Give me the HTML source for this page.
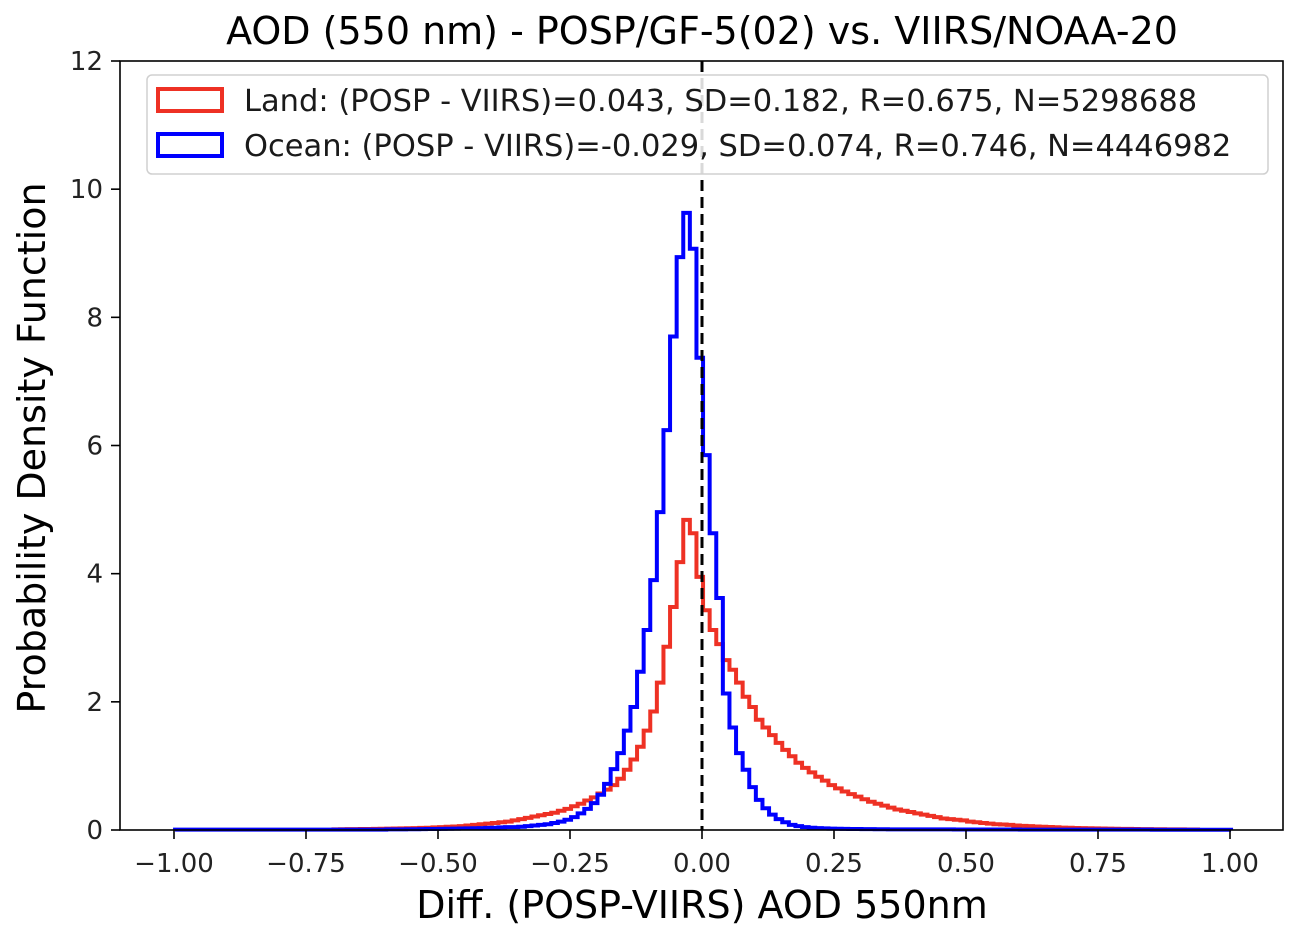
<!DOCTYPE html>
<html><head><meta charset="utf-8"><style>
html,body{margin:0;padding:0;background:#fff;}
svg{display:block;font-family:"DejaVu Sans","Liberation Sans",sans-serif;}
</style></head><body>
<svg id="chart" width="1300" height="940" viewBox="0 0 1300 940">
<text x="702" y="44" font-size="38" text-anchor="middle" fill="#000">AOD (550 nm) - POSP/GF-5(02) vs. VIIRS/NOAA-20</text>
<g id="plot"></g>
<text x="702" y="918" font-size="38" text-anchor="middle" fill="#000">Diff. (POSP-VIIRS) AOD 550nm</text>
<text transform="translate(45,448) rotate(-90)" font-size="38" text-anchor="middle" fill="#000">Probability Density Function</text>
</svg>
<script>
const xTicks = [-1.0, -0.75, -0.5, -0.25, 0.0, 0.25, 0.5, 0.75, 1.0];
const xTickLabels = ["\u22121.00","\u22120.75","\u22120.50","\u22120.25","0.00","0.25","0.50","0.75","1.00"];
const yTicks = [0, 2, 4, 6, 8, 10, 12];
const binWidth = 0.0125;
const binOrigin = 0.002;
const landStartBin = -56;
const landValues = [0.01,0.012,0.013,0.014,0.015,0.016,0.018,0.02,0.022,0.024,0.026,0.028,0.03,0.033,0.036,0.04,0.045,0.05,0.055,0.06,0.07,0.08,0.09,0.1,0.11,0.12,0.13,0.15,0.17,0.19,0.21,0.23,0.25,0.27,
0.3,0.33,0.37,0.41,0.46,0.51,0.57,0.63,0.7,0.8,0.94,1.1,1.3,1.55,1.85,2.3,2.86,
3.48,4.18,4.84,4.63,3.95,
3.43,3.12,2.9,2.65,2.5,2.3,2.08,1.92,1.72,1.6,1.48,1.36,1.25,1.15,1.05,0.97,0.9,0.83,0.77,0.7,0.65,0.6,0.56,0.52,0.48,0.44,0.41,0.38,0.35,0.32,0.3,0.28,0.26,0.24,0.22,0.2,0.18,0.17,0.16,0.15,0.13,0.12,0.11,0.1,0.09,0.085,0.08,0.07,0.065,0.06,0.055,
0.05,0.046,0.042,0.038,0.035,0.032,0.03,0.027,0.025,0.023,0.021,0.02,0.018,0.017,0.015,0.014,0.013,0.012,0.011,0.01,0.01,0.009,0.008,0.008];
const oceanStartBin = -80;
const oceanValues = [0.005,0.005,0.005,0.005,0.005,0.005,0.005,0.005,0.005,0.005,0.005,0.005,0.005,0.005,0.005,0.005,0.005,0.005,0.005,0.005,0.005,0.005,0.005,0.005,0.005,0.005,0.005,0.005,0.005,0.005,0.005,0.005,
0.01,0.01,0.01,0.012,0.012,0.014,0.015,0.016,0.018,0.02,0.022,0.024,0.026,0.028,0.03,0.033,0.036,0.04,0.045,0.045,
0.05,0.06,0.07,0.08,0.09,0.11,0.13,0.16,0.2,0.26,0.33,0.42,0.55,0.72,0.95,1.2,1.55,1.92,2.47,3.12,3.9,4.96,6.24,7.7,8.94,9.63,
9.07,7.37,5.85,4.63,3.62,2.13,1.6,1.2,0.94,0.67,0.47,0.34,0.24,0.17,0.12,0.08,0.06,0.045,0.035,0.03,
0.025,0.022,0.02,0.018,0.016,0.015,0.014,0.013,0.012,0.011,0.01,0.01,0.01,0.01,0.01,0.01,0.01,0.01,0.01,0.01,0.008,0.008,0.008,0.008,0.008,0.008,0.008,0.008,0.008,0.008,0.006,0.006,0.006,0.006,0.006,0.006,0.006,0.006,0.006,0.006,0.005,0.005,0.005,0.005,0.005,0.005,0.005,0.005,0.005,0.005,0.004,0.004,0.004,0.004,0.004,0.004,0.004,0.004,0.004,0.004,0.004,0.004];
const legendLabels = ["Land: (POSP - VIIRS)=0.043, SD=0.182, R=0.675, N=5298688","Ocean: (POSP - VIIRS)=-0.029, SD=0.074, R=0.746, N=4446982"];

const L=120,R=1283,T=61,B=830;
const xs = v => 702 + v*528;
const ys = v => B - v*(B-T)/12;
const NS="http://www.w3.org/2000/svg";
const plot=document.getElementById('plot');
function mk(tag,attrs,parent){const e=document.createElementNS(NS,tag);for(const k in attrs)e.setAttribute(k,attrs[k]);(parent||plot).appendChild(e);return e;}

function stepPath(start,vals){
  let d="";
  vals.forEach((v,i)=>{
    const x0=xs(binOrigin+(start+i)*binWidth), x1=xs(binOrigin+(start+i+1)*binWidth);
    if(i===0) d+="M"+x0+","+ys(0)+"L"+x0+","+ys(v); else d+="L"+x0+","+ys(v);
    d+="L"+x1+","+ys(v);
    if(i===vals.length-1) d+="L"+x1+","+ys(0);
  });
  return d;
}
const land=mk('path',{d:stepPath(landStartBin,landValues),fill:'none',stroke:'#ee3124','stroke-width':4,'stroke-linejoin':'miter'});


const ocean=mk('path',{d:stepPath(oceanStartBin,oceanValues),fill:'none',stroke:'#0000ff','stroke-width':4,'stroke-linejoin':'miter'});



const zl=mk('line',{x1:xs(0),x2:xs(0),y1:T,y2:B,stroke:'#000','stroke-width':3,'stroke-dasharray':'11,6'});



const frame=mk('rect',{x:L,y:T,width:R-L,height:B-T,fill:'none',stroke:'#000','stroke-width':1.6});



xTicks.forEach((t,i)=>{
  const ln=mk('line',{x1:xs(t),x2:xs(t),y1:B,y2:B+9,stroke:'#000','stroke-width':1.6});
  
  
  const tx=mk('text',{x:xs(t),y:B+42,'font-size':26,'text-anchor':'middle',fill:'#222'});
  tx.textContent=xTickLabels[i];
  
  
});
yTicks.forEach(t=>{
  const ln=mk('line',{x1:L-9,x2:L,y1:ys(t),y2:ys(t),stroke:'#000','stroke-width':1.6});
  
  
  const tx=mk('text',{x:L-17,y:ys(t)+9,'font-size':26,'text-anchor':'end',fill:'#222'});
  tx.textContent=String(t);
  
  
});

const lg=mk('g',{});


mk('rect',{x:147,y:75,width:1121,height:99,rx:5,fill:'#fff','fill-opacity':0.85,stroke:'#d0d0d0','stroke-width':1.5},lg);
const colors=['#ee3124','#0000ff'];
legendLabels.forEach((lab,i)=>{
  const y0=89+i*45;
  const sw=mk('rect',{x:158,y:y0,width:64,height:22,fill:'none',stroke:colors[i],'stroke-width':4},lg);
  
  
  const tx=mk('text',{x:244,y:y0+22,'font-size':30.5,fill:'#1a1a1a'},lg);
  tx.textContent=lab;
  
  
});
</script>
</body></html>
